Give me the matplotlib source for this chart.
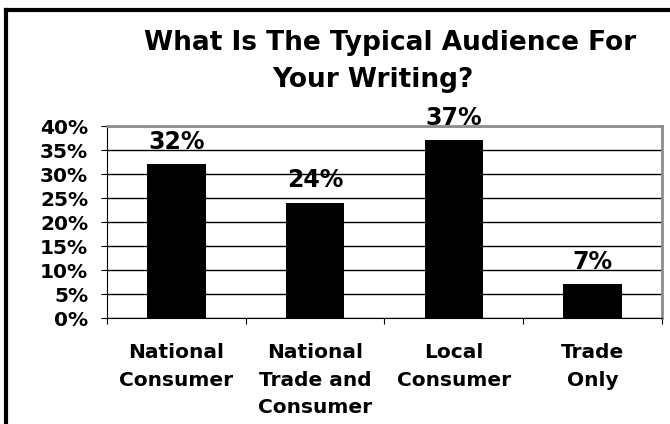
import numpy as np
import matplotlib.pyplot as plt
from matplotlib.lines import Line2D
from matplotlib.ticker import PercentFormatter

# audience categories and share of writers
categories = ['National\nConsumer', 'National\nTrade and\nConsumer', 'Local\nConsumer', 'Trade\nOnly']
shares = [32, 24, 37, 7]
yticks = [0, 5, 10, 15, 20, 25, 30, 35, 40]

plt.rcParams['font.family'] = 'DejaVu Sans'
plt.rcParams['font.weight'] = 'bold'

fig = plt.figure(figsize=(6.7, 4.24), dpi=100)
ax = fig.add_axes([0.1597, 0.25, 0.8283, 0.4528])

x = np.arange(len(categories))
ax.bar(x, shares, width=0.42, color='black', zorder=3)

ax.set_xlim(-0.5, len(categories) - 0.5)
ax.set_ylim(0, 40)
ax.set_yticks(yticks)
ax.yaxis.set_major_formatter(PercentFormatter(decimals=0))
ax.yaxis.grid(True, color='black', lw=1, zorder=1)

# category ticks sit between the bars
ax.set_xticks(np.arange(-0.5, len(categories)))
ax.set_xticklabels([])
ax.tick_params(axis='x', direction='out', length=4.5, color='black')
ax.tick_params(axis='y', direction='out', length=4.5, color='black', labelsize=14.5, pad=9)
for t in ax.get_yticklabels():
    t.set_fontweight('bold')

for i, lab in enumerate(categories):
    ax.text(i, -5.3, lab, ha='center', va='top', fontsize=14.5, fontweight='bold',
            linespacing=1.55)

# value labels over the bars
for i, v in enumerate(shares):
    ax.text(i, v + 3.3, f'{v}%', ha='center', va='baseline', fontsize=17, fontweight='bold')

ax.spines['left'].set_color('black')
ax.spines['bottom'].set_color('black')
ax.spines['top'].set_color('#8c8c8c')
ax.spines['right'].set_color('#8c8c8c')
ax.spines['top'].set_linewidth(2)
ax.spines['right'].set_linewidth(2)

fig.text(390 / 670, 1 - 50 / 424, 'What Is The Typical Audience For',
         ha='center', va='baseline', fontsize=19, fontweight='bold')
fig.text(373 / 670, 1 - 87 / 424, 'Your Writing?',
         ha='center', va='baseline', fontsize=19, fontweight='bold')

# frame lines along the top and left edges of the figure
fig.add_artist(Line2D([6 / 670, 1], [1 - 10 / 424, 1 - 10 / 424], color='black', lw=3,
                      transform=fig.transFigure))
fig.add_artist(Line2D([6 / 670, 6 / 670], [0, 1 - 10 / 424], color='black', lw=3,
                      transform=fig.transFigure))

fig.savefig('out.png', dpi=100)
